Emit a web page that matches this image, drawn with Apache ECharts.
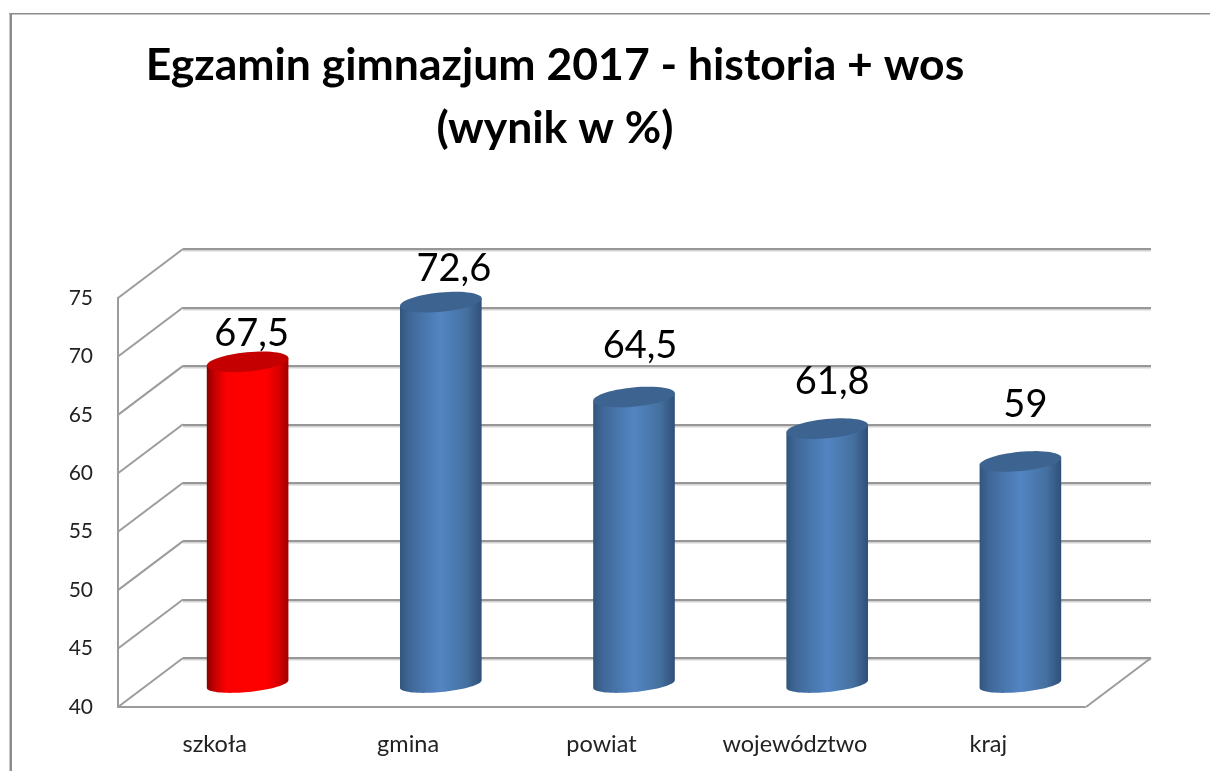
<!DOCTYPE html>
<html><head><meta charset="utf-8">
<style>html,body{margin:0;padding:0;background:#fff}#c{width:1210px;height:771px}</style>
<script src="https://cdn.jsdelivr.net/npm/echarts@6/dist/echarts.min.js"></script>
</head><body><div id="c"></div>
<script>
const categories = ['szkoła', 'gmina', 'powiat', 'województwo', 'kraj'];
const values = [67.5, 72.6, 64.5, 61.8, 59];
const valueLabels = ['67,5', '72,6', '64,5', '61,8', '59'];
const wallTicks = [40, 45, 50, 55, 60, 65, 70, 75];
const titleText = 'Egzamin gimnazjum 2017 - historia + wos\n(wynik w %)';

// layout and style constants
const labelLift = [28.5, 33.5, 51.5, 46.5, 56.5];
const labelShift = [4, 13, 6, 5, 5];
const depthX = -65, depthY = 49;
const RX = 41, RY_TOP = 9.6, RY_BASE = 8, TILT = 5.5 * Math.PI / 180;
const FONT = 'Lato';

function ellipsePoint(cx, cy, ry, t) {
  return [
    cx + RX * Math.cos(t) * Math.cos(TILT) + ry * Math.sin(t) * Math.sin(TILT),
    cy - RX * Math.cos(t) * Math.sin(TILT) + ry * Math.sin(t) * Math.cos(TILT)
  ];
}
function ellipseArc(cx, cy, ry, from, to, n) {
  const pts = [];
  for (let i = 0; i <= n; i++) pts.push(ellipsePoint(cx, cy, ry, from + (to - from) * i / n));
  return pts;
}
function bodyFill(stops) {
  return {type: 'linear', x: 0, y: 0, x2: 1, y2: 0,
    colorStops: stops.map(s => ({offset: s[0], color: s[1]}))};
}
const redBody = bodyFill([[0, '#8a0000'], [0.1, '#c80000'], [0.24, '#fb0000'], [0.72, '#ff0000'], [0.88, '#d80000'], [1, '#a00000']]);
const blueBody = bodyFill([[0, '#32557d'], [0.12, '#3f6898'], [0.5, '#5385c3'], [0.82, '#44709f'], [1, '#304f78']]);
const LINE = {stroke: '#9c9c9c', lineWidth: 2};
const hidden = {show: false};

const chart = echarts.init(document.getElementById('c'), null, {renderer: 'canvas'});
chart.setOption({
  animation: false,
  backgroundColor: '#ffffff',
  title: {
    text: titleText, left: 550, top: 29, textAlign: 'center',
    textStyle: {fontFamily: FONT, fontSize: 44.5, fontWeight: 700, color: '#000', lineHeight: 63}
  },
  graphic: [
    {type: 'rect', shape: {x: 9.5, y: 13, width: 2.5, height: 758}, style: {fill: '#8c8c8c'}},
    {type: 'rect', shape: {x: 9.5, y: 13, width: 1201, height: 1.5}, style: {fill: '#8c8c8c'}}
  ],
  grid: [
    {left: 183, top: 249, width: 968, height: 409},   // back wall
    {left: 118, top: 298, width: 967, height: 409},   // front edge
    {left: 151, top: 274, width: 966, height: 410}    // bar plane
  ],
  xAxis: [
    {gridIndex: 0, type: 'value', min: 0, max: 5, show: false, splitLine: hidden},
    {gridIndex: 1, type: 'category', data: categories, axisTick: hidden,
      axisLine: {lineStyle: {color: '#9c9c9c', width: 2}},
      axisLabel: {fontFamily: FONT, fontSize: 23.5, color: '#222', margin: 25}},
    {gridIndex: 2, type: 'category', data: categories, show: false}
  ],
  yAxis: [
    {gridIndex: 0, type: 'value', min: 40, max: 75, interval: 5, axisLabel: hidden, axisLine: hidden, axisTick: hidden,
      splitLine: {lineStyle: {color: '#979797', width: 2, shadowColor: '#d2d2d2', shadowOffsetY: 1.5, shadowBlur: 0}}},
    {gridIndex: 1, type: 'value', min: 40, max: 75, interval: 5, splitLine: hidden, axisTick: hidden,
      axisLine: {show: true, lineStyle: {color: '#9c9c9c', width: 2}},
      axisLabel: {fontFamily: FONT, fontSize: 21, color: '#222', margin: 25, padding: [3, 0, 0, 0]}},
    {gridIndex: 2, type: 'value', min: 40, max: 75, interval: 5, show: false, splitLine: hidden}
  ],
  series: [
    {
      type: 'custom', name: 'walls', xAxisIndex: 0, yAxisIndex: 0, clip: false, z: 1, silent: true,
      data: wallTicks.map(t => [0, t]).concat([[5, 40]]),
      renderItem: function (params, api) {
        const p = api.coord([api.value(0), api.value(1)]);
        return {type: 'line', shape: {x1: p[0], y1: p[1], x2: p[0] + depthX, y2: p[1] + depthY}, style: LINE};
      }
    },
    {
      type: 'custom', name: 'wynik', xAxisIndex: 2, yAxisIndex: 2, clip: false, z: 5,
      data: values.map((v, i) => [i, v]),
      renderItem: function (params, api) {
        const i = api.value(0);
        const top = api.coord([i, api.value(1)]);
        const base = api.coord([i, 40]);
        const red = i === 0;
        const body = ellipseArc(base[0], base[1], RY_BASE, 0, Math.PI, 40)
          .concat([ellipsePoint(top[0], top[1], RY_TOP, Math.PI), ellipsePoint(top[0], top[1], RY_TOP, 0)]);
        return {type: 'group', children: [
          {type: 'polygon', shape: {points: body}, style: {fill: red ? redBody : blueBody}},
          {type: 'polygon', shape: {points: ellipseArc(top[0], top[1], RY_TOP, 0, Math.PI * 2, 60)},
            style: {fill: red ? '#c40000' : '#3d6491'}},
          {type: 'text', style: {
            x: top[0] + labelShift[i], y: top[1] - labelLift[i],
            text: valueLabels[i], fill: '#000', fontFamily: FONT, fontSize: 38,
            align: 'center', verticalAlign: 'middle'}}
        ]};
      }
    }
  ]
});
</script></body></html>
